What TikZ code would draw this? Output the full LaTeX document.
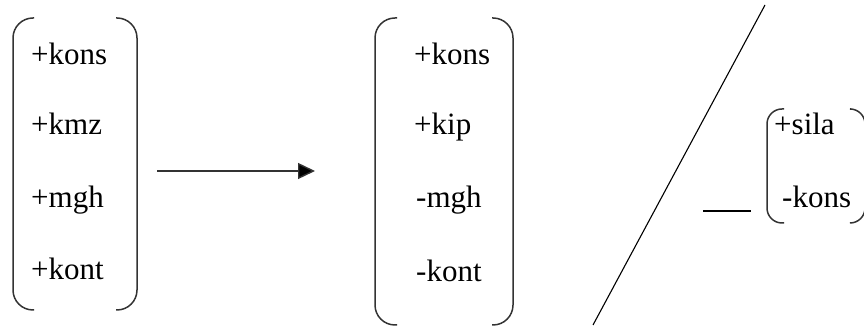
\documentclass[tikz,border=0pt]{standalone}
\usepackage{fontspec}
\setmainfont{Liberation Serif}
\usetikzlibrary{arrows.meta}
\begin{document}
\begin{tikzpicture}[x=1pt,y=1pt,
  feat/.style={anchor=base west,inner sep=0pt,font=\fontsize{31}{37}\selectfont},
  brk/.style={draw=black!80,line width=1.5pt,rounded corners=20pt},
  sbrk/.style={draw=black!80,line width=1.5pt,rounded corners=15pt},
  thin/.style={draw=black,line width=1.1pt}]
\useasboundingbox (0,0) rectangle (864,328);
% left matrix
\node[feat] (l1) at (31,328-65) {+kons};
\node[feat] (l2) at (31,328-135) {+kmz};
\node[feat] (l3) at (31,328-208) {+mgh};
\node[feat] (l4) at (31,328-280) {+kont};
\draw[brk] (34,328-18) -- (13,328-18) -- (13,328-310) -- (34,328-310);
\draw[brk] (116,328-18) -- (137,328-18) -- (137,328-310) -- (116,328-310);
% arrow
\coordinate (a1) at (157,328-171);
\coordinate (a2) at (315,328-171);
\draw[line width=1.4pt,draw=black!80,-{Triangle[length=17pt,width=16pt,fill=black]}] (a1) -- (a2);
% middle matrix
\node[feat] (m1) at (414,328-65) {+kons};
\node[feat] (m2) at (414,328-135) {+kip};
\node[feat] (m3) at (416,328-208) {-mgh};
\node[feat] (m4) at (416,328-282) {-kont};
\draw[brk] (397,328-18) -- (375,328-18) -- (375,328-325) -- (397,328-325);
\draw[brk] (492,328-18) -- (513,328-18) -- (513,328-325) -- (492,328-325);
% slash and underscore
\coordinate (s1) at (593,328-325);
\coordinate (s2) at (765,328-5);
\draw[thin] (s1) -- (s2);
\coordinate (u1) at (703,328-211);
\coordinate (u2) at (751,328-211);
\draw[thin] (u1) -- (u2);
% small matrix
\node[feat] (r1) at (774,328-135) {+sila};
\node[feat] (r2) at (782,328-208) {-kons};
\draw[sbrk] (784,328-109) -- (767,328-109) -- (767,328-223) -- (784,328-223);
\draw[sbrk] (851,328-109) -- (865,328-109) -- (865,328-223) -- (851,328-223);
\end{tikzpicture}
\end{document}
